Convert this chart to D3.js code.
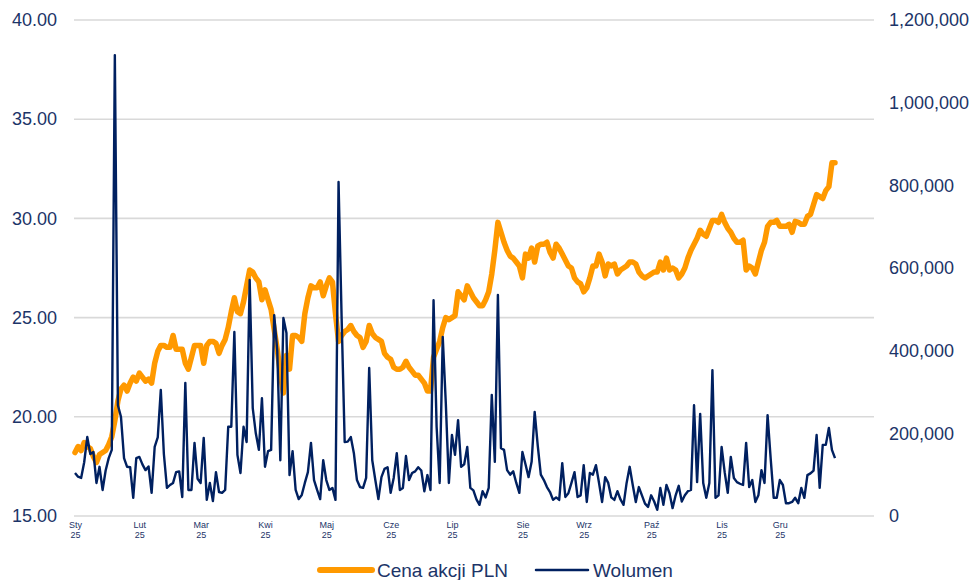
<!DOCTYPE html>
<html>
<head>
<meta charset="utf-8">
<script src="https://cdn.jsdelivr.net/npm/d3@7"></script>
<style>
  body { margin: 0; background: #fff; }
  svg { display: block; font-family: "Liberation Sans", Arial, sans-serif; }
</style>
</head>
<body>
<svg id="chart" width="972" height="580"></svg>
<script>
// month tick labels (trading-day index where each month starts)
const monthNames = ["Sty", "Lut", "Mar", "Kwi", "Maj", "Cze", "Lip", "Sie", "Wrz", "Paź", "Lis", "Gru"];
const monthStart = [0, 21, 41, 62, 82, 103, 123, 146, 166, 188, 211, 230];
const yearLabel = "25";

const priceTicks = [15, 20, 25, 30, 35, 40];
const volumeTicks = [0, 200000, 400000, 600000, 800000, 1000000, 1200000];

// closing price, PLN (one value per trading day)
const price = [
  18.2, 18.5, 18.3, 18.7, 18.5, 18.4, 18.0, 17.7, 18.1, 18.2, 18.3, 18.6, 19.0, 19.8, 20.8, 21.4, 21.6, 21.3, 21.7, 22.0, 21.8,
  22.2, 22.0, 21.8, 21.9, 21.7, 22.7, 23.3, 23.6, 23.6, 23.5, 23.5, 24.1, 23.4, 23.4, 23.4, 22.7, 22.4, 23.0, 23.6, 23.6,
  23.6, 22.7, 23.6, 23.8, 23.8, 23.7, 23.2, 23.6, 23.9, 24.5, 25.3, 26.0, 25.3, 25.2, 25.8, 26.6, 27.4, 27.3, 27.0, 26.8, 25.9,
  26.4, 25.9, 25.4, 24.4, 23.4, 22.2, 21.2, 23.1, 22.4, 24.1, 24.1, 24.0, 23.8, 25.2, 26.0, 26.6, 26.5, 26.5, 26.8, 26.1,
  26.6, 27.0, 26.8, 25.2, 23.8, 24.1, 24.3, 24.4, 24.6, 24.3, 24.1, 24.0, 23.5, 23.8, 24.6, 24.2, 24.0, 23.9, 23.8, 23.2, 23.0,
  22.9, 22.5, 22.4, 22.4, 22.5, 22.8, 22.5, 22.3, 22.1, 22.1, 21.9, 21.7, 21.3, 21.3, 23.0, 23.4, 23.8, 24.5, 25.0, 24.9,
  25.0, 25.1, 26.3, 26.1, 25.9, 26.6, 26.3, 26.0, 25.8, 25.6, 25.6, 25.9, 26.3, 27.2, 28.4, 29.8, 29.3, 28.8, 28.4, 28.1, 28.0, 27.8, 27.6,
  27.0, 28.2, 28.0, 28.5, 27.8, 28.6, 28.7, 28.7, 28.8, 28.3, 28.0, 28.7, 28.5, 28.2, 27.9, 27.6, 27.5, 27.0, 26.8, 26.7,
  26.3, 26.5, 27.0, 27.6, 27.6, 28.2, 27.8, 27.1, 27.7, 27.6, 27.7, 27.2, 27.4, 27.5, 27.6, 27.8, 27.8, 27.7, 27.3, 27.1, 27.0, 27.1,
  27.2, 27.3, 27.3, 27.8, 27.4, 28.0, 27.4, 27.5, 27.4, 27.0, 27.2, 27.5, 28.0, 28.4, 28.7, 29.0, 29.4, 29.2, 29.1, 29.5, 29.9, 29.9, 29.8,
  30.2, 29.8, 29.5, 29.3, 29.0, 28.8, 28.8, 28.9, 27.4, 27.6, 27.5, 27.2, 27.8, 28.4, 28.8, 29.6, 29.8, 29.8, 29.9,
  29.6, 29.6, 29.6, 29.7, 29.3, 29.85, 29.8, 29.7, 29.7, 30.1, 30.2, 30.7, 31.2, 31.1, 31.0, 31.4, 31.6, 32.8, 32.8
];

// daily volume, thousands of shares
const volumeK = [
  104, 95, 92, 130, 191, 150, 155, 80, 119, 63, 110, 140, 160, 1115, 268, 240, 140, 119, 118, 44, 140,
  143, 125, 111, 120, 56, 167, 190, 305, 150, 68, 75, 80, 106, 108, 46, 322, 63, 63, 177, 90,
  80, 189, 39, 80, 36, 106, 58, 56, 63, 216, 216, 445, 148, 104, 216, 179, 571, 261, 200, 160, 285,
  119, 157, 160, 486, 400, 135, 479, 443, 99, 157, 63, 41, 51, 80, 106, 177, 87, 63, 41, 135,
  87, 63, 68, 39, 808, 480, 179, 180, 191, 152, 87, 70, 68, 92, 358, 135, 87, 41, 94, 114, 118,
  56, 92, 152, 63, 68, 145, 87, 104, 108, 118, 110, 60, 99, 63, 522, 216, 80, 433, 273, 80,
  196, 148, 232, 119, 125, 167, 68, 62, 40, 27, 60, 45, 68, 293, 131, 535, 164, 160, 111, 100, 108, 80, 56,
  155, 125, 94, 131, 252, 170, 100, 87, 70, 58, 39, 45, 39, 128, 46, 55, 80, 106, 46, 50,
  123, 34, 104, 100, 123, 80, 34, 94, 80, 45, 39, 60, 40, 27, 80, 119, 75, 34, 70, 50, 30, 22,
  50, 35, 15, 68, 27, 75, 55, 19, 50, 73, 35, 50, 60, 63, 268, 82, 247, 80, 44, 80, 353, 44, 50,
  167, 106, 56, 143, 92, 82, 78, 75, 177, 70, 87, 34, 50, 111, 80, 244, 140, 44, 44,
  87, 75, 31, 31, 34, 44, 31, 68, 44, 99, 103, 110, 196, 68, 172, 172, 213, 160, 140
];

const seriesNames = ["Cena akcji PLN", "Wolumen"];

const ORANGE = "#ff9900";
const NAVY = "#002060";
const TEXT = "#1c3468";
const GRID = "#d9d9d9";

const svg = d3.select("#chart");
const plotLeft = 74, plotRight = 874, plotTop = 20, plotBottom = 516;

const x = d3.scaleLinear().domain([0, price.length - 1]).range([75, 835]);
const yP = d3.scaleLinear().domain([15, 40]).range([plotBottom, plotTop]);
const yV = d3.scaleLinear().domain([0, 1200000]).range([plotBottom, plotTop]);

// gridlines
svg.append("g")
  .selectAll("line")
  .data(priceTicks)
  .join("line")
  .attr("x1", plotLeft).attr("x2", plotRight)
  .attr("y1", d => yP(d)).attr("y2", d => yP(d))
  .attr("stroke", GRID).attr("stroke-width", 1.6);

// left axis
const gl = svg.append("g")
  .attr("transform", `translate(${plotLeft},0)`)
  .call(d3.axisLeft(yP).tickValues(priceTicks).tickFormat(d3.format(".2f")).tickSize(0).tickPadding(17));
gl.select(".domain").remove();
gl.selectAll("text").attr("fill", TEXT).style("font-size", "18px");

// right axis
const gr = svg.append("g")
  .attr("transform", `translate(${plotRight},0)`)
  .call(d3.axisRight(yV).tickValues(volumeTicks).tickFormat(d3.format(",")).tickSize(0).tickPadding(15));
gr.select(".domain").remove();
gr.selectAll("text").attr("fill", TEXT).style("font-size", "18px");

// bottom axis: month / year on two lines
const gb = svg.append("g")
  .attr("transform", `translate(0,${plotBottom})`)
  .call(d3.axisBottom(x).tickValues(monthStart).tickSize(0).tickFormat(""));
gb.select(".domain").remove();
gb.selectAll(".tick text").remove();
gb.selectAll(".tick").append("text")
  .attr("fill", TEXT)
  .attr("text-anchor", "middle")
  .style("font-size", "9px")
  .each(function (d, i) {
    const t = d3.select(this);
    t.append("tspan").attr("x", 0).attr("y", 12).text(monthNames[i]);
    t.append("tspan").attr("x", 0).attr("y", 22).text(yearLabel);
  });

// price line
svg.append("path")
  .datum(price)
  .attr("fill", "none")
  .attr("stroke", ORANGE)
  .attr("stroke-width", 5.5)
  .attr("stroke-linejoin", "round")
  .attr("stroke-linecap", "round")
  .attr("d", d3.line().x((d, i) => x(i)).y(d => yP(d)));

// volume line
svg.append("path")
  .datum(volumeK)
  .attr("fill", "none")
  .attr("stroke", NAVY)
  .attr("stroke-width", 2.4)
  .attr("stroke-linejoin", "round")
  .attr("d", d3.line().x((d, i) => x(i)).y(d => yV(d * 1000)));

// legend
const legend = svg.append("g").attr("transform", "translate(0,570)");
const items = [
  { name: seriesNames[0], color: ORANGE, width: 6, x: 320 },
  { name: seriesNames[1], color: NAVY, width: 2.5, x: 536 }
];
items.forEach(it => {
  legend.append("line")
    .attr("x1", it.x).attr("x2", it.x + 52)
    .attr("y1", 0).attr("y2", 0)
    .attr("stroke", it.color).attr("stroke-width", it.width)
    .attr("stroke-linecap", "round");
  legend.append("text")
    .attr("x", it.x + 57).attr("y", 7)
    .attr("fill", TEXT)
    .style("font-size", "19px")
    .text(it.name);
});
</script>
</body>
</html>
